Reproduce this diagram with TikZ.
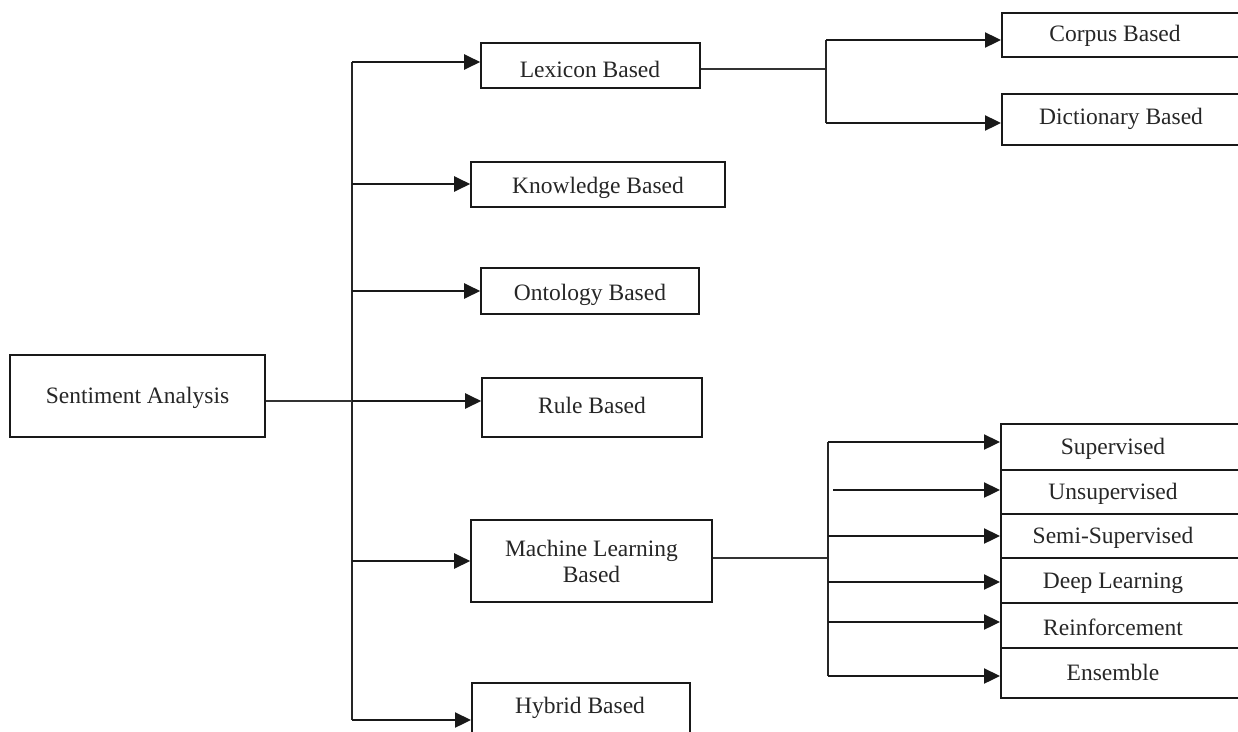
\documentclass[tikz,border=0pt]{standalone}
\usepackage{fontspec}
\setmainfont{Liberation Serif}
\usetikzlibrary{arrows.meta}
\begin{document}
\begin{tikzpicture}[x=1pt,y=-1pt,
  box/.style={draw=black!90, line width=1.6pt, rectangle, inner sep=0pt},
  txt/.style={font=\fontsize{23.5}{26}\selectfont, align=center, text=black!85, inner sep=0pt},
  arr/.style={-{Triangle[length=16pt,width=15pt]}, line width=2.3pt, draw=black!90},
  stem/.style={line width=2.3pt, draw=black!85},
  thinline/.style={line width=1.5pt, draw=black!80}]
\useasboundingbox (0,0) rectangle (1238,731);
% main boxes
\node[box, minimum width=255pt, minimum height=82pt] (sa) at (137.5,396) {};
\node[txt] (satxt) at (137.5,398) {Sentiment Analysis};
\node[box, minimum width=219pt, minimum height=45pt] (lex) at (590.5,65.5) {};
\node[txt] (lextxt) at (590,69) {Lexicon Based};
\node[box, minimum width=254pt, minimum height=45pt] (kno) at (598,184.5) {};
\node[txt] (knotxt) at (598,188) {Knowledge Based};
\node[box, minimum width=218pt, minimum height=46pt] (ont) at (590,291) {};
\node[txt] (onttxt) at (590,295) {Ontology Based};
\node[box, minimum width=220pt, minimum height=59pt] (rule) at (592,407.5) {};
\node[txt] (ruletxt) at (592,405) {Rule Based};
\node[box, minimum width=241pt, minimum height=82pt] (ml) at (591.5,561) {};
\node[txt] (mltxt) at (591.5,561) {Machine Learning\\Based};
\node[box, minimum width=218pt, minimum height=70pt, anchor=north west] (hyb) at (471,682) {};
\node[txt] (hybtxt) at (580,708) {Hybrid Based};
% lexicon children
\node[box, minimum width=250pt, minimum height=44pt, anchor=north west] (corpus) at (1001,12) {};
\node[txt] (corpustxt) at (1115,36) {Corpus Based};
\node[box, minimum width=250pt, minimum height=51pt, anchor=north west] (dict) at (1001,93) {};
\node[txt] (dicttxt) at (1121,119) {Dictionary Based};
% ML children
\node[box, minimum width=250pt, minimum height=46pt, anchor=north west] (sup) at (1000,423) {};
\node[txt] (suptxt) at (1113,449) {Supervised};
\node[box, minimum width=250pt, minimum height=44pt, anchor=north west] (uns) at (1000,469) {};
\node[txt] (unstxt) at (1113,494) {Unsupervised};
\node[box, minimum width=250pt, minimum height=44pt, anchor=north west] (semi) at (1000,513) {};
\node[txt] (semitxt) at (1113,538) {Semi-Supervised};
\node[box, minimum width=250pt, minimum height=45pt, anchor=north west] (deep) at (1000,557) {};
\node[txt] (deeptxt) at (1113,583) {Deep Learning};
\node[box, minimum width=250pt, minimum height=45pt, anchor=north west] (reinf) at (1000,602) {};
\node[txt] (reinftxt) at (1113,627) {Reinforcement};
\node[box, minimum width=250pt, minimum height=50pt, anchor=north west] (ens) at (1000,647) {};
\node[txt] (enstxt) at (1113,672) {Ensemble};
% trunk
\coordinate (t1) at (352,62);
\coordinate (t2) at (352,184);
\coordinate (t3) at (352,291);
\coordinate (t4) at (352,401);
\coordinate (t5) at (352,561);
\coordinate (t6) at (352,720);
\draw[stem] (t1) -- (t6);
\draw[thinline] (sa.east |- t4) -- (t4);
\draw[arr] (t1) -- (t1 -| lex.west);
\draw[arr] (t2) -- (t2 -| kno.west);
\draw[arr] (t3) -- (t3 -| ont.west);
\draw[arr] (t4) -- (t4 -| rule.west);
\draw[arr] (t5) -- (t5 -| ml.west);
\draw[arr] (t6) -- (t6 -| hyb.west);
% lexicon branch
\coordinate (l0) at (826,69);
\coordinate (c1) at (826,40);
\coordinate (c2) at (826,123);
\draw[thinline] (lex.east |- l0) -- (l0);
\draw[stem] (c1) -- (c2);
\draw[arr] (c1) -- (c1 -| corpus.west);
\draw[arr] (c2) -- (c2 -| dict.west);
% ML branch
\coordinate (m0) at (828,558);
\coordinate (m1) at (828,442);
\coordinate (m2) at (833,490);
\coordinate (m3) at (828,536);
\coordinate (m4) at (828,582);
\coordinate (m5) at (828,622);
\coordinate (m6) at (828,676);
\draw[thinline] (ml.east |- m0) -- (m0);
\draw[stem] (m1) -- (m6);
\draw[arr] (m1) -- (m1 -| sup.west);
\draw[arr] (m2) -- (m2 -| uns.west);
\draw[arr] (m3) -- (m3 -| semi.west);
\draw[arr] (m4) -- (m4 -| deep.west);
\draw[arr] (m5) -- (m5 -| reinf.west);
\draw[arr] (m6) -- (m6 -| ens.west);
\end{tikzpicture}
\end{document}
